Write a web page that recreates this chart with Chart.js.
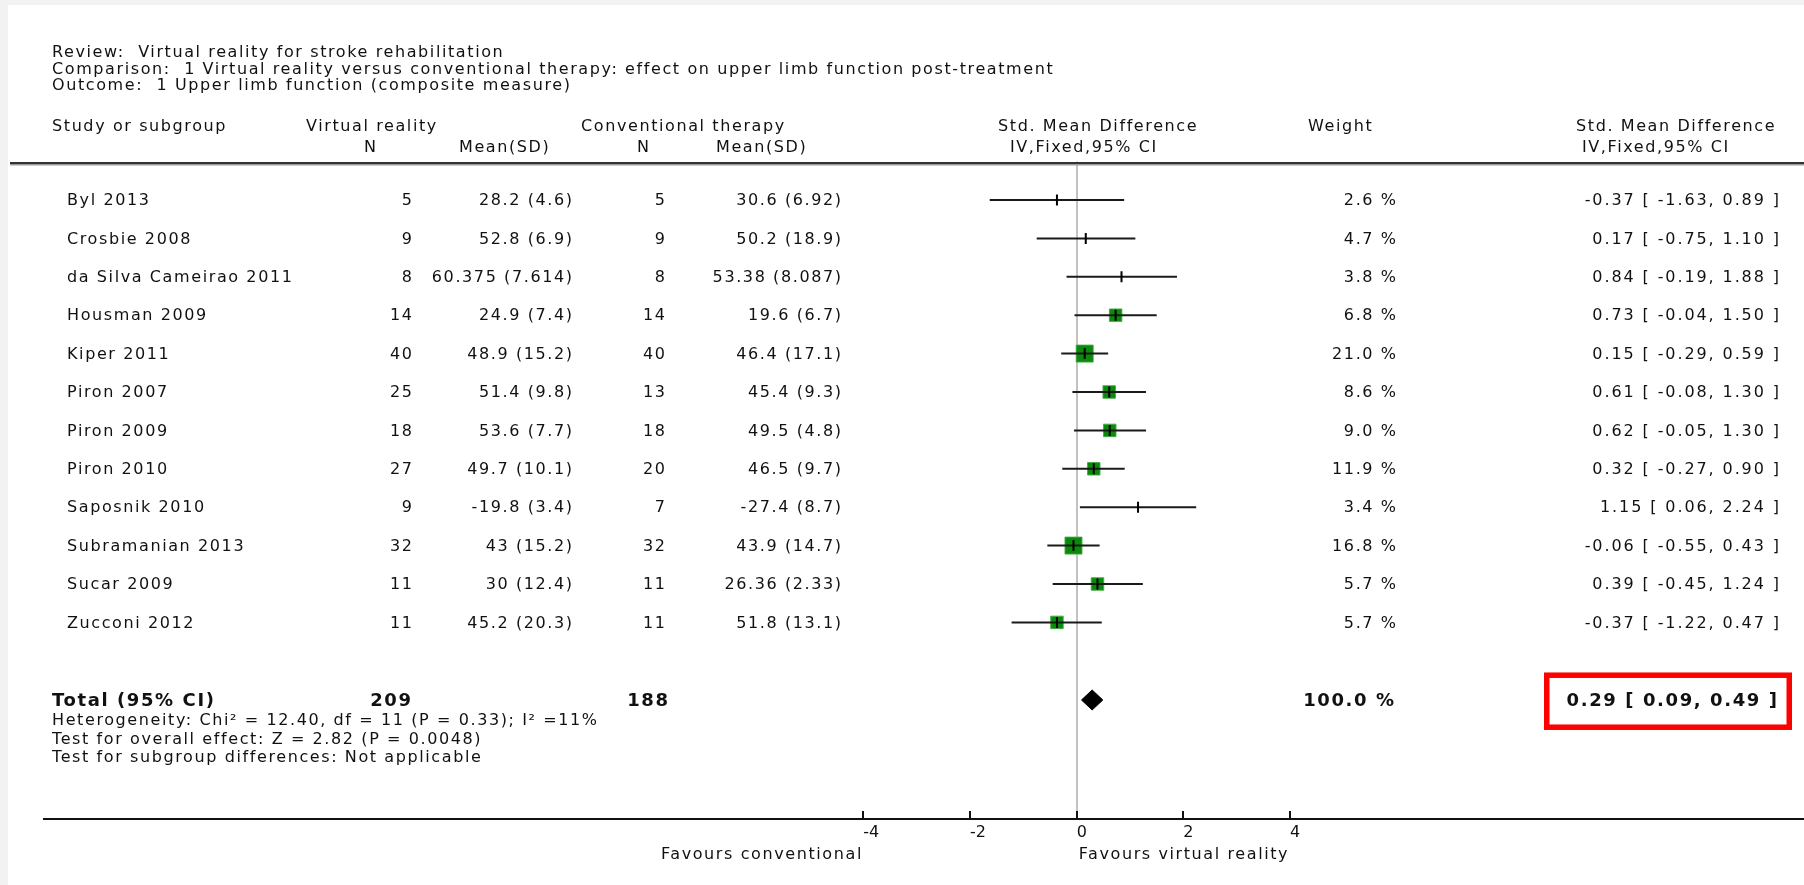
<!DOCTYPE html>
<html>
<head>
<meta charset="utf-8">
<script src="https://cdn.jsdelivr.net/npm/chart.js@4.4.1/dist/chart.umd.min.js"></script>
<style>
  html, body { margin: 0; padding: 0; background: #f2f2f2; overflow: hidden; }
  canvas { display: block; }
</style>
</head>
<body>
<canvas id="forest" width="1804" height="885"></canvas>
<script>
// data
const studies = ['Byl 2013', 'Crosbie 2008', 'da Silva Cameirao 2011', 'Housman 2009', 'Kiper 2011', 'Piron 2007',
                 'Piron 2009', 'Piron 2010', 'Saposnik 2010', 'Subramanian 2013', 'Sucar 2009', 'Zucconi 2012'];
const vrN = [5, 9, 8, 14, 40, 25, 18, 27, 9, 32, 11, 11];
const vrMeanSD = ['28.2 (4.6)', '52.8 (6.9)', '60.375 (7.614)', '24.9 (7.4)', '48.9 (15.2)', '51.4 (9.8)',
                  '53.6 (7.7)', '49.7 (10.1)', '-19.8 (3.4)', '43 (15.2)', '30 (12.4)', '45.2 (20.3)'];
const convN = [5, 9, 8, 14, 40, 13, 18, 20, 7, 32, 11, 11];
const convMeanSD = ['30.6 (6.92)', '50.2 (18.9)', '53.38 (8.087)', '19.6 (6.7)', '46.4 (17.1)', '45.4 (9.3)',
                    '49.5 (4.8)', '46.5 (9.7)', '-27.4 (8.7)', '43.9 (14.7)', '26.36 (2.33)', '51.8 (13.1)'];
const weights = [2.6, 4.7, 3.8, 6.8, 21.0, 8.6, 9.0, 11.9, 3.4, 16.8, 5.7, 5.7];
const smd = [-0.37, 0.17, 0.84, 0.73, 0.15, 0.61, 0.62, 0.32, 1.15, -0.06, 0.39, -0.37];
const ciLow = [-1.63, -0.75, -0.19, -0.04, -0.29, -0.08, -0.05, -0.27, 0.06, -0.55, -0.45, -1.22];
const ciHigh = [0.89, 1.10, 1.88, 1.50, 0.59, 1.30, 1.30, 0.90, 2.24, 0.43, 1.24, 0.47];

const totalVrN = 209;
const totalConvN = 188;
const totalWeight = 100.0;
const totalSmd = 0.29;
const totalLow = 0.09;
const totalHigh = 0.49;

const axisTicks = [-4, -2, 0, 2, 4];

const titleLines = [
    'Review:  Virtual reality for stroke rehabilitation',
    'Comparison:  1 Virtual reality versus conventional therapy: effect on upper limb function post-treatment',
    'Outcome:  1 Upper limb function (composite measure)'
];
const statLines = [
    'Heterogeneity: Chi\u00b2 = 12.40, df = 11 (P = 0.33); I\u00b2 =11%',
    'Test for overall effect: Z = 2.82 (P = 0.0048)',
    'Test for subgroup differences: Not applicable'
];
const favoursLeft = 'Favours conventional';
const favoursRight = 'Favours virtual reality';

// layout
const FONT = '"DejaVu Sans", sans-serif';
const ROW0 = 1;                              // first study row on y scale
const TOTAL_ROW = studies.length + 2.02;

function rowOf(i) { return ROW0 + i; }
function boxSide(w) { return w >= 15 ? 17 : (w >= 5 ? 12.5 : 0); }
function f2(v) { return v.toFixed(2); }
function ciText(m, lo, hi) { return f2(m) + ' [ ' + f2(lo) + ', ' + f2(hi) + ' ]'; }

function txt(ctx, s, x, y, align, font, spacing) {
    ctx.save();
    ctx.font = font;
    ctx.letterSpacing = (spacing || 0) + 'px';
    ctx.textAlign = align;
    ctx.textBaseline = 'middle';
    ctx.fillStyle = '#111';
    ctx.fillText(s, align === 'right' ? x + (spacing || 0) : x, y);
    ctx.restore();
}

const tablePlugin = {
    id: 'tablePlugin',
    beforeDraw(chart) {
        const ctx = chart.ctx;
        ctx.save();
        ctx.fillStyle = '#f2f2f2';
        ctx.fillRect(0, 0, chart.width, chart.height);
        ctx.fillStyle = '#ffffff';
        ctx.fillRect(8, 5, chart.width - 8, chart.height - 5);
        ctx.restore();
    },
    afterDraw(chart) {
        const ctx = chart.ctx;
        const ys = chart.scales.y;
        const xs = chart.scales.x;
        const reg = '16px ' + FONT;
        const bold = 'bold 18px ' + FONT;
        const sp = 1.6;

        // titles
        titleLines.forEach((s, i) => txt(ctx, s, 52, 53 + i * 16.5, 'left', reg, sp));

        // column headers
        txt(ctx, 'Study or subgroup', 52, 127, 'left', reg, sp);
        txt(ctx, 'Virtual reality', 306, 127, 'left', reg, sp);
        txt(ctx, 'N', 364, 148, 'left', reg, sp);
        txt(ctx, 'Mean(SD)', 459, 148, 'left', reg, sp);
        txt(ctx, 'Conventional therapy', 581, 127, 'left', reg, sp);
        txt(ctx, 'N', 637, 148, 'left', reg, sp);
        txt(ctx, 'Mean(SD)', 716, 148, 'left', reg, sp);
        txt(ctx, 'Std. Mean Difference', 998, 127, 'left', reg, sp);
        txt(ctx, 'IV,Fixed,95% CI', 1010, 148, 'left', reg, sp);
        txt(ctx, 'Weight', 1308, 127, 'left', reg, sp);
        txt(ctx, 'Std. Mean Difference', 1576, 127, 'left', reg, sp);
        txt(ctx, 'IV,Fixed,95% CI', 1582, 148, 'left', reg, sp);

        // header rule
        ctx.save();
        ctx.fillStyle = '#333';
        ctx.fillRect(10, 162, chart.width - 10, 2);
        ctx.fillStyle = '#9a9a9a';
        ctx.fillRect(10, 164, chart.width - 10, 1.5);
        ctx.restore();

        // study rows
        studies.forEach((name, i) => {
            const y = ys.getPixelForValue(rowOf(i)) + 1;
            txt(ctx, name, 67, y, 'left', reg, sp);
            txt(ctx, String(vrN[i]), 412, y, 'right', reg, sp);
            txt(ctx, vrMeanSD[i], 572, y, 'right', reg, sp);
            txt(ctx, String(convN[i]), 665, y, 'right', reg, sp);
            txt(ctx, convMeanSD[i], 841, y, 'right', reg, sp);
            txt(ctx, weights[i].toFixed(1) + ' %', 1396, y, 'right', reg, sp);
            txt(ctx, ciText(smd[i], ciLow[i], ciHigh[i]), 1779, y, 'right', reg, 1.9);
        });

        // total row
        const ty = ys.getPixelForValue(TOTAL_ROW);
        txt(ctx, 'Total (95% CI)', 52, ty + 1, 'left', bold, sp);
        txt(ctx, String(totalVrN), 411, ty + 1, 'right', bold, sp);
        txt(ctx, String(totalConvN), 668, ty + 1, 'right', bold, sp);
        txt(ctx, totalWeight.toFixed(1) + ' %', 1394, ty + 1, 'right', bold, sp);
        txt(ctx, ciText(totalSmd, totalLow, totalHigh), 1777, ty + 1, 'right', bold, sp);
        statLines.forEach((s, i) => txt(ctx, s, 52, ty + 21 + i * 18.5, 'left', reg, sp));

        // highlight box round the pooled estimate
        ctx.save();
        ctx.strokeStyle = '#ff0000';
        ctx.lineWidth = 5.5;
        ctx.strokeRect(1544 + 2.75, ty - 27.5 + 2.75, 248 - 5.5, 57.5 - 5.5);
        ctx.restore();

        // axis tick marks pointing up
        ctx.save();
        ctx.strokeStyle = '#111';
        ctx.lineWidth = 2;
        const base = chart.chartArea.bottom;
        xs.ticks.forEach(t => {
            const px = Math.round(xs.getPixelForValue(t.value));
            ctx.beginPath();
            ctx.moveTo(px, base);
            ctx.lineTo(px, base - 8);
            ctx.stroke();
        });
        ctx.restore();

        txt(ctx, favoursLeft, xs.getPixelForValue(axisTicks[0]) - 2, base + 36, 'right', reg, sp);
        txt(ctx, favoursRight, xs.getPixelForValue(0) + 2, base + 36, 'left', reg, sp);
    }
};

// datasets built from the arrays
const ciLines = studies.map((s, i) => ({
    type: 'line',
    data: [{ x: ciLow[i], y: rowOf(i) }, { x: ciHigh[i], y: rowOf(i) }],
    borderColor: '#1a1a1a',
    borderWidth: 2,
    pointRadius: 0,
    order: 1
}));

const boxes = {
    type: 'line',
    showLine: false,
    data: studies.map((s, i) => ({ x: smd[i], y: rowOf(i) })),
    pointStyle: 'rect',
    pointRadius: weights.map(w => boxSide(w) / Math.SQRT2),
    pointBackgroundColor: '#0a8a0a',
    pointBorderColor: 'rgba(70,170,70,0.9)',
    pointBorderWidth: 1,
    order: 2
};

const estTicks = {
    type: 'line',
    showLine: false,
    data: studies.map((s, i) => ({ x: smd[i], y: rowOf(i) })),
    pointStyle: 'line',
    rotation: 90,
    pointRadius: 5.5,
    pointBorderColor: '#000',
    pointBorderWidth: 2,
    order: 0
};

const dh = 0.26;
const diamond = {
    type: 'line',
    data: [
        { x: totalLow, y: TOTAL_ROW },
        { x: totalSmd, y: TOTAL_ROW - dh },
        { x: totalHigh, y: TOTAL_ROW },
        { x: totalSmd, y: TOTAL_ROW + dh },
        { x: totalLow, y: TOTAL_ROW }
    ],
    borderColor: '#000',
    borderWidth: 1,
    backgroundColor: '#000',
    fill: 'shape',
    pointRadius: 0,
    tension: 0,
    order: 0
};

new Chart(document.getElementById('forest'), {
    type: 'line',
    data: { datasets: [...ciLines, boxes, estTicks, diamond] },
    options: {
        responsive: false,
        devicePixelRatio: 1,
        animation: false,
        events: [],
        layout: { autoPadding: false, padding: { left: 44, right: 0, top: 161.6, bottom: 0 } },
        plugins: { legend: { display: false }, tooltip: { enabled: false } },
        scales: {
            x: {
                type: 'linear',
                min: -19.36,
                max: 13.635,
                afterBuildTicks: (s) => { s.ticks = axisTicks.map(v => ({ value: v })); },
                afterFit: (s) => { s.height = 66; },
                ticks: {
                    align: 'start',
                    padding: 4,
                    color: '#111',
                    font: { family: FONT, size: 16 },
                    callback: (v) => String(v)
                },
                grid: {
                    drawOnChartArea: true,
                    drawTicks: false,
                    lineWidth: 2,
                    color: (c) => (c.tick && c.tick.value === 0) ? '#c2c2c2' : 'rgba(0,0,0,0)'
                },
                border: { display: true, color: '#111', width: 2 }
            },
            y: {
                type: 'linear',
                min: 0,
                max: 17.12,
                reverse: true,
                display: false
            }
        }
    },
    plugins: [tablePlugin]
});
</script>
</body>
</html>
